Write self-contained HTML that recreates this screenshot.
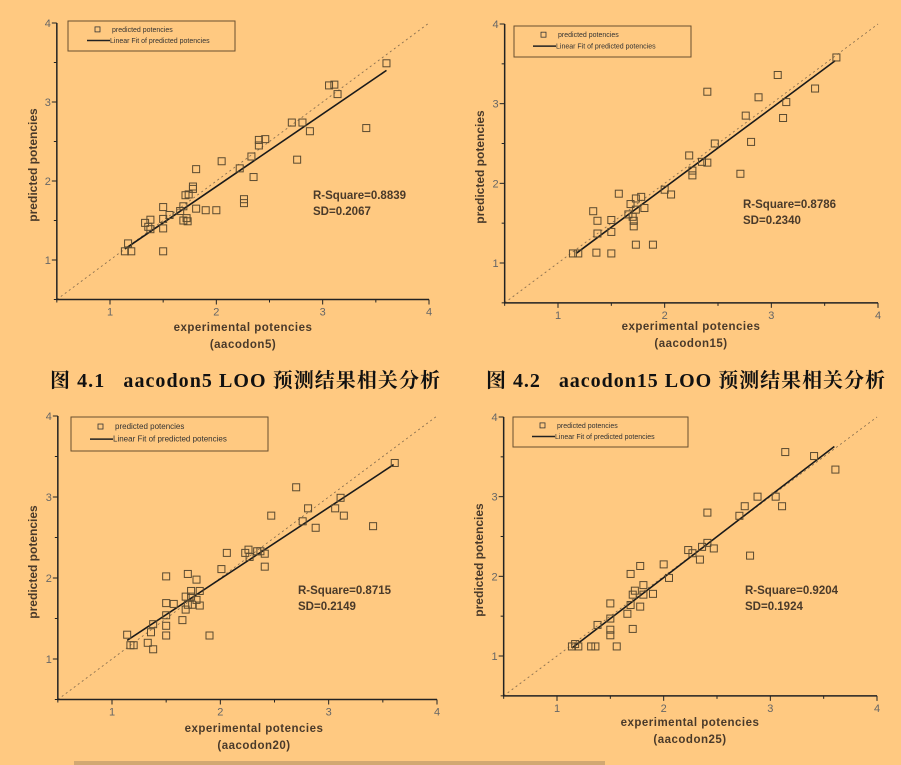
<!DOCTYPE html>
<html><head><meta charset="utf-8"><style>
body{margin:0;background:#FFC981;width:901px;height:765px;overflow:hidden;font-family:"Liberation Sans",sans-serif}
svg{display:block}
.cap{font-family:"Liberation Serif","Noto Serif CJK SC",serif;font-weight:bold;font-size:20px;fill:#111}
</style></head><body>
<svg id="chart" width="901" height="765">
<rect x="0" y="0" width="901" height="765" fill="#FFC981"/>
<text class="cap" x="50" y="387" textLength="390" lengthAdjust="spacing">图 4.1 &#160;&#160;aacodon5 LOO 预测结果相关分析</text>
<text class="cap" x="486" y="387" textLength="399" lengthAdjust="spacing">图 4.2 &#160;&#160;aacodon15 LOO 预测结果相关分析</text>
<rect x="74" y="761" width="531" height="4" fill="#D2A872"/>
</svg>
<script>
const c1x=[1.14,1.17,1.20,1.33,1.38,1.36,1.38,1.50,1.50,1.50,1.50,1.56,1.66,1.69,1.69,1.72,1.73,1.71,1.74,1.78,1.78,1.81,1.81,1.90,2.00,2.05,2.22,2.26,2.26,2.33,2.35,2.40,2.40,2.46,2.71,2.81,2.88,2.76,3.06,3.11,3.14,3.41,3.60];
const c1y=[1.11,1.21,1.11,1.47,1.51,1.42,1.39,1.67,1.52,1.40,1.11,1.57,1.62,1.68,1.50,1.53,1.49,1.82,1.83,1.93,1.90,2.15,1.65,1.63,1.63,2.25,2.16,1.77,1.72,2.31,2.05,2.52,2.45,2.53,2.74,2.74,2.63,2.27,3.21,3.22,3.10,2.67,3.49];
const c1fit=[1.14,1.14,3.60,3.40];
const c2x=[1.14,1.19,1.33,1.37,1.37,1.36,1.50,1.50,1.50,1.57,1.66,1.68,1.70,1.71,1.71,1.73,1.73,1.73,1.78,1.81,1.89,2.00,2.06,2.23,2.26,2.26,2.35,2.40,2.40,2.47,2.71,2.76,2.81,2.88,3.06,3.11,3.14,3.41,3.61];
const c2y=[1.12,1.12,1.65,1.53,1.37,1.13,1.54,1.39,1.12,1.87,1.61,1.74,1.58,1.53,1.46,1.81,1.67,1.23,1.83,1.69,1.23,1.92,1.86,2.35,2.16,2.10,2.27,2.26,3.15,2.50,2.12,2.85,2.52,3.08,3.36,2.82,3.02,3.19,3.58];
const c2fit=[1.17,1.12,3.60,3.54];
const c3x=[1.14,1.17,1.20,1.33,1.36,1.38,1.38,1.50,1.50,1.50,1.50,1.50,1.57,1.65,1.68,1.68,1.70,1.70,1.73,1.73,1.74,1.78,1.78,1.81,1.81,1.90,2.01,2.06,2.23,2.26,2.27,2.34,2.37,2.41,2.41,2.47,2.70,2.76,2.81,2.88,3.06,3.11,3.14,3.41,3.61];
const c3y=[1.30,1.17,1.17,1.20,1.33,1.43,1.12,2.02,1.69,1.54,1.41,1.29,1.68,1.48,1.77,1.61,2.05,1.67,1.84,1.77,1.67,1.98,1.73,1.84,1.66,1.29,2.11,2.31,2.31,2.35,2.26,2.33,2.33,2.30,2.14,2.77,3.12,2.70,2.86,2.62,2.86,2.99,2.77,2.64,3.42];
const c3fit=[1.14,1.23,3.60,3.40];
const c4x=[1.14,1.17,1.20,1.32,1.36,1.38,1.50,1.50,1.50,1.50,1.56,1.66,1.69,1.69,1.71,1.71,1.73,1.78,1.78,1.81,1.81,1.90,2.00,2.05,2.23,2.27,2.34,2.36,2.41,2.41,2.47,2.71,2.76,2.81,2.88,3.05,3.11,3.14,3.41,3.61];
const c4y=[1.12,1.15,1.12,1.12,1.12,1.39,1.66,1.47,1.33,1.26,1.12,1.53,2.03,1.64,1.34,1.77,1.82,2.13,1.62,1.89,1.77,1.78,2.15,1.98,2.33,2.29,2.21,2.37,2.42,2.80,2.35,2.76,2.88,2.26,3.00,3.00,2.88,3.56,3.51,3.34];
const c4fit=[1.14,1.10,3.60,3.63];
const tickVals=[1,2,3,4];
const rsq=["0.8839","0.8786","0.8715","0.9204"];
const sds=["0.2067","0.2340","0.2149","0.1924"];
const sets=["aacodon5","aacodon15","aacodon20","aacodon25"];

const NS="http://www.w3.org/2000/svg";
const svg=document.getElementById('chart');
function mk(tag,attrs,parent){const e=document.createElementNS(NS,tag);for(const k in attrs)e.setAttribute(k,attrs[k]);(parent||svg).appendChild(e);return e;}

const geo=[
 {x1:110,x4:429,y1:260,y4:23,leg:[68,21,167,30],lf:7,rx:313,ry:199,xt:243,xty:331,yt:33,ytc:165},
 {x1:558,x4:878,y1:263,y4:24,leg:[514,26,177,31],lf:7,rx:743,ry:208,xt:691,xty:330,yt:480,ytc:167},
 {x1:112,x4:437,y1:659,y4:416,leg:[71,417,197,34],lf:8,rx:298,ry:594,xt:254,xty:732,yt:33,ytc:562},
 {x1:557,x4:877,y1:656,y4:417,leg:[513,417,175,30],lf:7,rx:745,ry:594,xt:690,xty:726,yt:479,ytc:560}
];
const xs=[c1x,c2x,c3x,c4x], ys=[c1y,c2y,c3y,c4y], fits=[c1fit,c2fit,c3fit,c4fit];

geo.forEach((g,i)=>{
 const sx=v=>g.x1+(v-1)*(g.x4-g.x1)/3;
 const sy=v=>g.y1-(v-1)*(g.y1-g.y4)/3;
 const grp=mk('g',{});
 
 
 const L=sx(0.5),B=sy(0.5),R=sx(4),T=sy(4);
 const d=mk('line',{x1:L,y1:B,x2:R,y2:T,stroke:'#8a7050','stroke-width':0.9,'stroke-dasharray':'2,3'},grp);
 
 
 const ax=mk('path',{d:`M${L},${T} L${L},${B} L${R},${B}`,fill:'none',stroke:'#222','stroke-width':1.5},grp);
 
 
 [0.5,1,1.5,2,2.5,3,3.5,4].forEach(v=>{
  const major=Number.isInteger(v);const len=major?5:3;
  mk('line',{x1:sx(v),y1:B,x2:sx(v),y2:B+len,stroke:'#222','stroke-width':1},grp);
  mk('line',{x1:L,y1:sy(v),x2:L-len,y2:sy(v),stroke:'#222','stroke-width':1},grp);
 });
 tickVals.forEach(v=>{
  const t=mk('text',{x:sx(v),y:B+16,'font-size':11,fill:'#666','text-anchor':'middle'},grp);t.textContent=v;
  
  
  const u=mk('text',{x:L-6,y:sy(v)+4,'font-size':11,fill:'#666','text-anchor':'end'},grp);u.textContent=v;
  
  
 });
 const f=fits[i];
 const fl=mk('line',{x1:sx(f[0]),y1:sy(f[1]),x2:sx(f[2]),y2:sy(f[3]),stroke:'#1a1a1a','stroke-width':1.6},grp);
 
 
 xs[i].forEach((xv,j)=>{
  const p=mk('rect',{x:sx(xv)-3.5,y:sy(ys[i][j])-3.5,width:7,height:7,fill:'none',stroke:'#5a4a30','stroke-width':1},grp);
  
  
 });
 const [lx,ly,lw,lh]=g.leg;
 const lg=mk('g',{},grp);
 
 
 mk('rect',{x:lx,y:ly,width:lw,height:lh,fill:'none',stroke:'#6a5030','stroke-width':1},lg);
 mk('rect',{x:lx+27,y:ly+lh*0.28-2.5,width:5,height:5,fill:'none',stroke:'#333','stroke-width':0.8},lg);
 const t1=mk('text',{x:lx+44,y:ly+lh*0.28+2.5,'font-size':g.lf,fill:'#333'},lg);t1.textContent='predicted potencies';
 mk('line',{x1:lx+19,y1:ly+lh*0.65,x2:lx+42,y2:ly+lh*0.65,stroke:'#222','stroke-width':1.5},lg);
 const t2=mk('text',{x:lx+42,y:ly+lh*0.65+2.5,'font-size':g.lf,fill:'#333'},lg);t2.textContent='Linear Fit of predicted potencies';
 const r=mk('text',{x:g.rx,y:g.ry,'font-size':11.5,'font-weight':'bold',fill:'#4a3a2a'},grp);r.textContent='R-Square='+rsq[i];
 
 
 const s=mk('text',{x:g.rx,y:g.ry+16,'font-size':11.5,'font-weight':'bold',fill:'#4a3a2a'},grp);s.textContent='SD='+sds[i];
 
 
 const xt=mk('text',{x:g.xt,y:g.xty,'font-size':11.5,'font-weight':'bold',fill:'#4a3a2a','text-anchor':'middle','letter-spacing':0.5},grp);xt.textContent='experimental potencies';
 
 
 const xt2=mk('text',{x:g.xt,y:g.xty+17,'font-size':11.5,'font-weight':'bold',fill:'#4a3a2a','text-anchor':'middle','letter-spacing':0.5},grp);xt2.textContent='('+sets[i]+')';
 
 
 const yt=mk('text',{x:g.yt,y:g.ytc,'font-size':12,'font-weight':'bold',fill:'#4a3a2a','text-anchor':'middle',transform:`rotate(-90 ${g.yt} ${g.ytc})`,dy:4},grp);yt.textContent='predicted potencies';
 
 
});
</script>
</body></html>
